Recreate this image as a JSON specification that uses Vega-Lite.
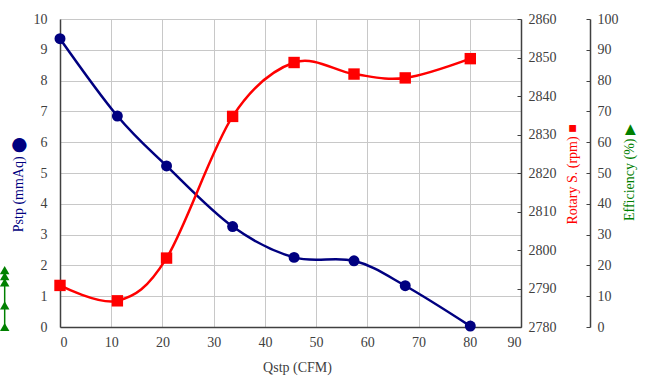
{
  "$schema": "https://vega.github.io/schema/vega-lite/v6.json",
  "autosize": {"type": "none"},
  "width": 461,
  "height": 308,
  "padding": {"left": 60, "top": 19, "right": 126, "bottom": 63},
  "background": "white",
  "config": {
    "view": {"stroke": null},
    "font": "Liberation Serif",
    "axis": {
      "labelFont": "Liberation Serif",
      "titleFont": "Liberation Serif",
      "labelFontSize": 14,
      "titleFontSize": 14,
      "titleFontWeight": "normal",
      "labelColor": "#404040",
      "titleColor": "#404040",
      "domainColor": "#404040",
      "domainWidth": 1.5,
      "tickColor": "#404040",
      "gridColor": "#c8c8c8",
      "gridWidth": 1
    }
  },
  "datasets": {
    "main": [
      {"q": 0.0, "pstp": 9.36, "rpm": 2790.8},
      {"q": 11.2, "pstp": 6.85, "rpm": 2786.8},
      {"q": 20.8, "pstp": 5.23, "rpm": 2797.9},
      {"q": 33.7, "pstp": 3.26, "rpm": 2834.7},
      {"q": 45.7, "pstp": 2.26, "rpm": 2848.7},
      {"q": 57.4, "pstp": 2.15, "rpm": 2845.7},
      {"q": 67.4, "pstp": 1.34, "rpm": 2844.7},
      {"q": 80.1, "pstp": 0.03, "rpm": 2849.7}
    ],
    "eff": [
      {"q": -10.8, "eff": 18.5},
      {"q": -10.8, "eff": 16.5},
      {"q": -10.8, "eff": 14.5},
      {"q": -10.8, "eff": 7},
      {"q": -10.8, "eff": 0}
    ]
  },
  "encoding": {
    "x": {
      "field": "q",
      "type": "quantitative",
      "scale": {"domain": [0, 90], "nice": false},
      "axis": {
        "title": "Qstp (CFM)",
        "values": [0, 10, 20, 30, 40, 50, 60, 70, 80, 90],
        "format": "d",
        "grid": true,
        "ticks": false,
        "labelPadding": 8,
        "titleX": 237,
        "titleY": 40,
        "titleAlign": "center",
        "titleBaseline": "middle",
        "encode": {"labels": {"update": {"font": {"value": "Liberation Serif"}}}}
      }
    }
  },
  "layer": [
    {
      "data": {"name": "main"},
      "encoding": {
        "y": {
          "field": "pstp",
          "type": "quantitative",
          "scale": {"domain": [0, 10], "nice": false},
          "axis": {
            "orient": "left",
            "title": "Pstp (mmAq) ⬤",
            "titleColor": "#000080",
            "values": [0, 1, 2, 3, 4, 5, 6, 7, 8, 9, 10],
            "format": "d",
            "grid": true,
            "ticks": false,
            "labelPadding": 13,
            "titleAngle": 270,
            "titleX": -42,
            "titleY": 165,
            "titleAlign": "center",
            "titleBaseline": "middle",
            "encode": {"labels": {"update": {"font": {"value": "Liberation Serif"}}}}
          }
        }
      },
      "layer": [
        {"mark": {"type": "line", "color": "#000080", "strokeWidth": 2.5, "interpolate": "cardinal"}},
        {"mark": {"type": "point", "shape": "circle", "filled": true, "color": "#000080", "size": 120, "opacity": 1}}
      ]
    },
    {
      "data": {"name": "main"},
      "encoding": {
        "y": {
          "field": "rpm",
          "type": "quantitative",
          "scale": {"domain": [2780, 2860], "nice": false},
          "axis": {
            "orient": "right",
            "title": "Rotary S. (rpm) ■",
            "titleColor": "#ff0000",
            "values": [2780, 2790, 2800, 2810, 2820, 2830, 2840, 2850, 2860],
            "format": "d",
            "grid": false,
            "tickSize": -4,
            "labelPadding": 11,
            "titleAngle": 270,
            "titleX": 51,
            "titleY": 155,
            "titleAlign": "center",
            "titleBaseline": "middle",
            "encode": {"labels": {"update": {"font": {"value": "Liberation Serif"}}}}
          }
        }
      },
      "layer": [
        {"mark": {"type": "line", "color": "#ff0000", "strokeWidth": 2.5, "interpolate": "cardinal"}},
        {"mark": {"type": "point", "shape": "square", "filled": true, "color": "#ff0000", "size": 130, "opacity": 1}}
      ]
    },
    {
      "data": {"name": "eff"},
      "encoding": {
        "y": {
          "field": "eff",
          "type": "quantitative",
          "scale": {"domain": [0, 100], "nice": false},
          "axis": {
            "orient": "right",
            "offset": 69,
            "title": "Efficiency (%) ▶",
            "titleColor": "#008000",
            "values": [0, 10, 20, 30, 40, 50, 60, 70, 80, 90, 100],
            "format": "d",
            "grid": false,
            "tickSize": -4,
            "labelPadding": 11,
            "titleAngle": 270,
            "titleX": 39,
            "titleY": 153,
            "titleAlign": "center",
            "titleBaseline": "middle",
            "encode": {"labels": {"update": {"font": {"value": "Liberation Serif"}}}}
          }
        }
      },
      "layer": [
        {"mark": {"type": "line", "color": "#008000", "strokeWidth": 1.5, "clip": false}},
        {"mark": {"type": "point", "shape": "triangle-up", "filled": true, "color": "#008000", "size": 90, "opacity": 1, "clip": false}}
      ]
    }
  ],
  "resolve": {"scale": {"y": "independent"}}
}
